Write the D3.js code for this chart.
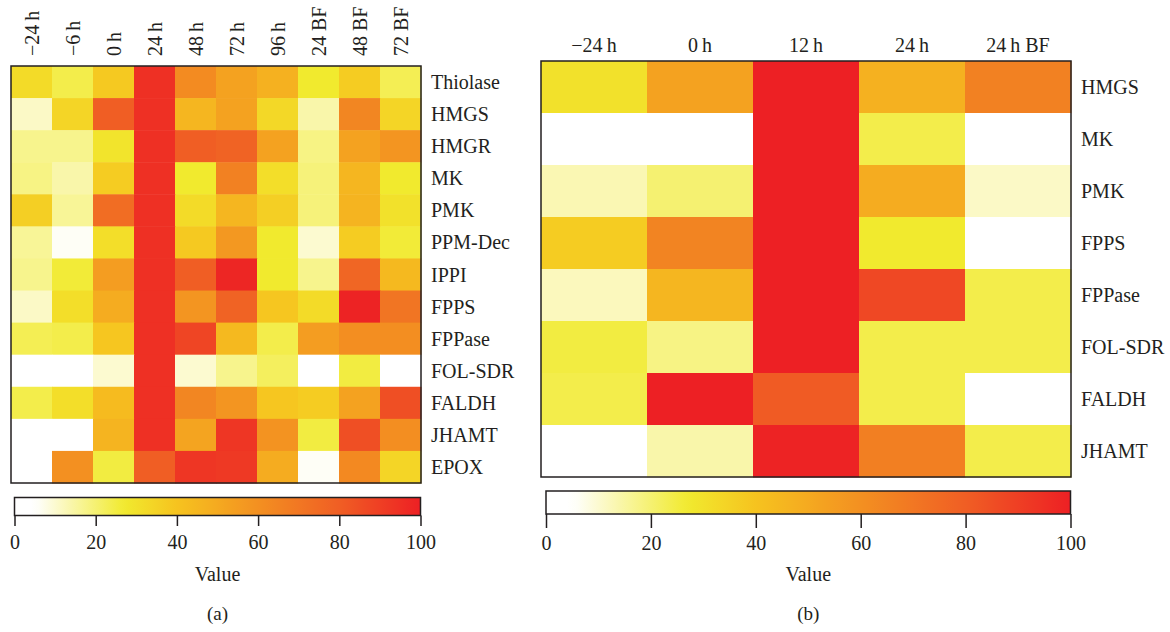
<!DOCTYPE html>
<html><head><meta charset="utf-8">
<script src="https://cdn.jsdelivr.net/npm/d3@7"></script>
<style>body{margin:0;background:#fff}svg{display:block}text{font-family:"Liberation Serif","Times New Roman",serif;fill:#231f20}</style>
</head><body><svg id="c" width="1170" height="632"></svg>
<script>
// ---- data ----
const colsA = ["\u221224\u2009h","\u22126\u2009h","0\u2009h","24\u2009h","48\u2009h","72\u2009h","96\u2009h","24 BF","48 BF","72 BF"];
const rowsA = ["Thiolase","HMGS","HMGR","MK","PMK","PPM-Dec","IPPI","FPPS","FPPase","FOL-SDR","FALDH","JHAMT","EPOX"];
const valuesA = [
  [32,24,38,95,62,53,47,27,37,23],
  [11,34,80,95,45,53,33,14,64,34],
  [17,17,29,95,80,78,53,18,53,58],
  [18,14,37,95,27,66,31,19,45,27],
  [36,16,74,95,32,45,36,19,46,30],
  [16,6,31,95,38,57,27,10,37,26],
  [17,26,55,95,80,98,27,17,77,44],
  [11,31,49,95,58,78,39,32,99,71],
  [23,24,39,95,88,44,24,55,61,61],
  [1,1,10,95,10,17,22,5,25,1],
  [24,31,43,95,64,58,39,37,53,85],
  [1,4,46,95,52,93,59,25,85,61],
  [2,60,25,80,93,92,49,6,63,34]
];
const colsB = ["\u221224\u2009h","0\u2009h","12\u2009h","24\u2009h","24\u2009h BF"];
const rowsB = ["HMGS","MK","PMK","FPPS","FPPase","FOL-SDR","FALDH","JHAMT"];
const valuesB = [
  [30,53,100,47,66],
  [0,2,100,24,1],
  [13,20,100,49,11],
  [37,65,100,27,3],
  [12,45,100,87,24],
  [25,18,100,24,24],
  [24,100,81,24,3],
  [0,14,99,67,24]
];
const ticks = [0,20,40,60,80,100];
const colourStops = [0,5,27,40,60,80,100];
const colourValues = ["#ffffff","#ffffff","#f1ea2e","#f6c31f","#f39021","#f05e24","#ed2024"];

// ---- drawing ----
const svg = d3.select("#c");
const color = d3.scaleLinear().domain(colourStops).range(colourValues).clamp(true);
const FS = "20px";

function heat(g, rows, cols, vals, box, opt){
  const x = d3.scaleBand().domain(cols).range([box.x0, box.x1]);
  const y = d3.scaleBand().domain(rows).range([box.y0, box.y1]);
  vals.forEach((r,i)=>r.forEach((v,j)=>{
    g.append("rect").attr("x",x(cols[j])).attr("y",y(rows[i]))
     .attr("width",x.bandwidth()+0.5).attr("height",y.bandwidth()+0.5)
     .attr("fill",color(v));
  }));
  g.append("rect").attr("x",box.x0).attr("y",box.y0).attr("width",box.x1-box.x0).attr("height",box.y1-box.y0)
   .attr("fill","none").attr("stroke","#231f20").attr("stroke-width",1.5);
  rows.forEach(r=>{
    g.append("text").attr("x",box.x1+opt.rowDx).attr("y",y(r)+y.bandwidth()/2).attr("dy","0.35em")
     .style("font-size",FS).text(r);
  });
  cols.forEach(c=>{
    const cx = x(c)+x.bandwidth()/2;
    if(opt.rotate){
      g.append("text").attr("transform",`translate(${cx},${box.y0-10}) rotate(-90)`).attr("dy","0.35em")
       .attr("text-anchor","start").style("font-size",FS).text(c);
    } else {
      g.append("text").attr("x",cx).attr("y",box.y0-9).attr("text-anchor","middle")
       .style("font-size",FS).text(c);
    }
  });
}

function colourbar(g, id, x0, x1, y0, y1, tickBottom, labelY, valueY, capY, cap){
  const s = d3.scaleLinear().domain([0,100]).range([x0,x1]);
  const grad = svg.append("defs").append("linearGradient").attr("id",id)
    .attr("x1","0%").attr("x2","100%");
  d3.range(0,101,2).forEach(v=>grad.append("stop").attr("offset",v+"%").attr("stop-color",color(v)));
  g.append("rect").attr("x",x0).attr("y",y0).attr("width",x1-x0).attr("height",y1-y0)
   .attr("fill",`url(#${id})`).attr("stroke","#231f20").attr("stroke-width",1.5);
  const ax = g.append("g").attr("transform",`translate(0,${y1})`)
    .call(d3.axisBottom(s).tickValues(ticks).tickSize(tickBottom-y1).tickSizeOuter(0).tickFormat(d3.format("d")));
  ax.select(".domain").remove();
  ax.selectAll(".tick line").attr("stroke","#231f20").attr("stroke-width",1.5);
  ax.selectAll(".tick text").attr("y",labelY-y1).attr("dy",0).style("font-size",FS)
    .style("font-family","'Liberation Serif', serif").attr("fill","#231f20");
  g.append("text").attr("x",(x0+x1)/2).attr("y",valueY).attr("text-anchor","middle").style("font-size",FS).text("Value");
  g.append("text").attr("x",(x0+x1)/2).attr("y",capY).attr("text-anchor","middle").style("font-size","19px").text(cap);
}

const gA = svg.append("g");
heat(gA, rowsA, colsA, valuesA, {x0:11,x1:421,y0:66,y1:483}, {rotate:true, rowDx:10});
colourbar(gA, "gradA", 14.5, 420.5, 497.5, 515.5, 526, 549, 581, 620, "(a)");

const gB = svg.append("g");
heat(gB, rowsB, colsB, valuesB, {x0:541,x1:1071,y0:61,y1:477}, {rotate:false, rowDx:10});
colourbar(gB, "gradB", 546, 1070.5, 491, 514, 528, 550, 581, 620, "(b)");
</script></body></html>
